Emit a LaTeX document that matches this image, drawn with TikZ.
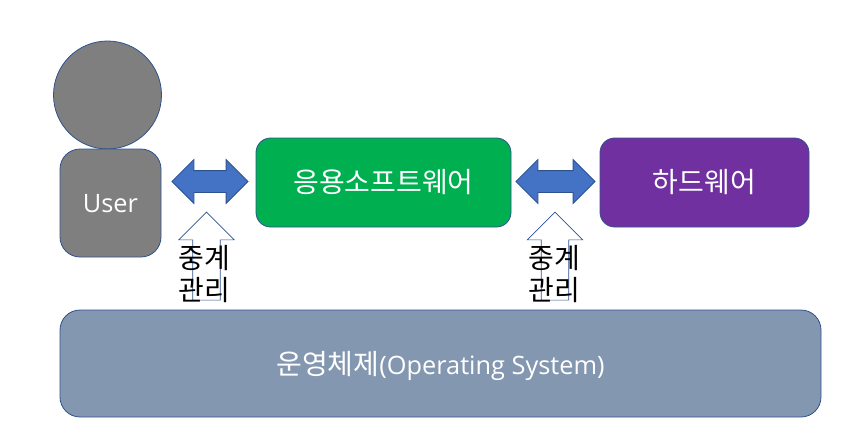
\documentclass[tikz,border=0pt]{standalone}
\usepackage{fontspec}
\setmainfont{Noto Sans CJK KR}
\newfontfamily\latinfont{Open Sans}
\usetikzlibrary{shapes.arrows}
\definecolor{myline}{RGB}{47, 82, 143}
\definecolor{mygray}{RGB}{127, 127, 127}
\definecolor{mygreen}{RGB}{0, 176, 80}
\definecolor{mypurple}{RGB}{112, 48, 160}
\definecolor{myos}{RGB}{132, 151, 176}
\definecolor{myblue}{RGB}{68, 114, 196}
\newcommand{\eng}[1]{{\latinfont\fontsize{19}{22}\selectfont #1}}
\newcommand{\lbl}[2]{\raisebox{#1}[0pt][0pt]{#2}}
\tikzset{
  block/.style={draw=myline, line width=0.6pt, rounded corners=#1, text=white, font=\fontsize{21}{25}\selectfont, inner sep=0pt},
  swap/.style={double arrow, draw=myline, line width=0.6pt, fill=myblue, inner sep=7.875pt, double arrow head extend=8.25pt, minimum width=32.25pt},
  relay/.style={single arrow, draw=myline, line width=0.5pt, fill=white, inner sep=10.1pt, single arrow head extend=10.5pt, minimum width=41.25pt, minimum height=66pt, shape border rotate=90},
  relaytext/.style={align=center, text=black, font=\fontsize{21}{24.5}\selectfont, inner sep=0pt}
}

\begin{document}
\begin{tikzpicture}[x=0.75pt, y=-0.75pt]
    \useasboundingbox (0,0) rectangle (864,443);
    \node[circle, draw=myline, line width=0.6pt, fill=mygray, minimum size=81pt, inner sep=0pt] (head) at (107.5,95) {};
    \node[block=15pt, fill=mygray, minimum width=75.75pt, minimum height=81pt] (user) at (110.5,203) {\lbl{-7pt}{\eng{User}}};
    \node[block=11pt, fill=mygreen, minimum width=191.25pt, minimum height=66.75pt] (app) at (383.5,182.5) {\lbl{-7.8pt}{응용소프트웨어}};
    \node[block=11pt, fill=mypurple, minimum width=156.75pt, minimum height=66.75pt] (hw) at (704.5,182.5) {\lbl{-7.8pt}{하드웨어}};
    \node[block=15pt, fill=myos, minimum width=570.75pt, minimum height=80.25pt] (os) at (440.5,363.5) {\lbl{-8.6pt}{운영체제\eng{(Operating System)}}};

    \node[swap, minimum height=57pt] (left) at (210,181.5) {};
    \node[swap, minimum height=59.25pt] (right) at (555.5,181.5) {};

    \node[relay] (relayl) at (206.5,263) {};
    \node[relay] (relayr) at (555,263) {};
    \node[relaytext] (textl) at (204,274) {중계\\관리};
    \node[relaytext] (textr) at (554,274) {중계\\관리};
\end{tikzpicture}
\end{document}
